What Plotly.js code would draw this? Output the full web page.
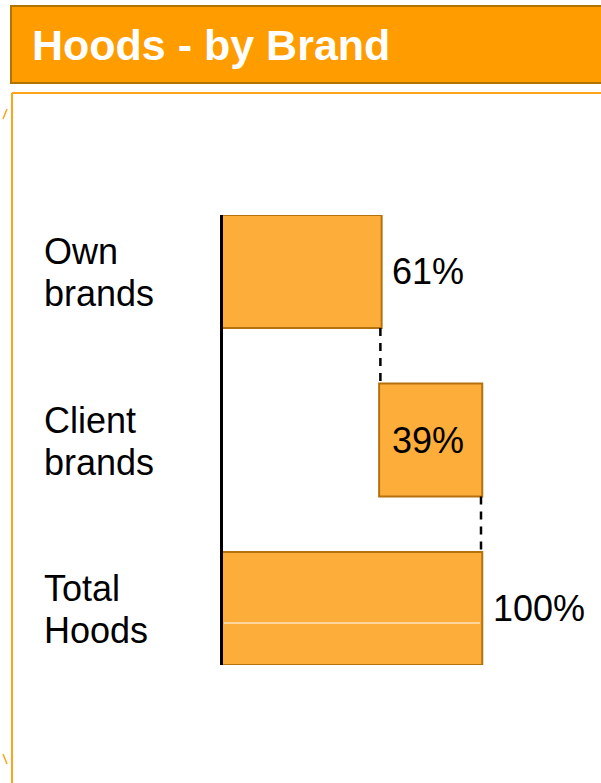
<!DOCTYPE html>
<html>
<head>
<meta charset="utf-8">
<script src="https://cdn.plot.ly/plotly-3.0.1.min.js"></script>
<style>html,body{margin:0;padding:0;background:#fff;}#chart{width:601px;height:783px;}</style>
</head>
<body>
<div id="chart"></div>
<script>
// ---- data ----
var categories = ["Own brands", "Client brands", "Total Hoods"];
var categoryLabelLines = [["Own", "brands"], ["Client", "brands"], ["Total", "Hoods"]];
var values = [61, 39, 100];
var measures = ["relative", "relative", "total"];
var valueLabels = ["61%", "39%", "100%"];
var labelInside = [false, true, false];
var chartTitle = "Hoods - by Brand";

// ---- geometry helpers (pixel -> paper) ----
var W = 601, H = 783, ML = 223, MR = 0, MT = 215, MB = 118;
var PW = W - ML - MR, PH = H - MT - MB;
function px(x) { return (x - ML) / PW; }
function py(y) { return (H - MB - y) / PH; }

var fill = "#FDAD3A", edge = "#B5720C";
var font = "Liberation Sans, Arial, sans-serif";

var trace = {
  type: "waterfall",
  orientation: "h",
  y: categories,
  x: values,
  measure: measures,
  width: 0.67,
  increasing: {marker: {color: fill, line: {color: edge, width: 2}}},
  decreasing: {marker: {color: fill, line: {color: edge, width: 2}}},
  totals: {marker: {color: fill, line: {color: edge, width: 2}}},
  connector: {mode: "between", line: {color: "#000", width: 2.5, dash: "8px,7px"}},
  textinfo: "none",
  hoverinfo: "skip",
  cliponaxis: false
};

// cumulative ends for label positions
var annotations = [];
var cum = 0;
for (var i = 0; i < categories.length; i++) {
  var start, end;
  if (measures[i] === "total") { start = 0; end = values[i]; cum = values[i]; }
  else { start = cum; end = cum + values[i]; cum = end; }
  annotations.push({
    xref: "x", yref: "y",
    x: labelInside[i] ? (start + end) / 2 : end,
    y: categories[i],
    text: valueLabels[i],
    showarrow: false,
    xanchor: labelInside[i] ? "center" : "left",
    yanchor: "middle",
    xshift: labelInside[i] ? -3 : 10,
    font: {family: font, size: 36, color: "#000"}
  });
  var lines = categoryLabelLines[i];
  for (var k = 0; k < lines.length; k++) {
    annotations.push({
      xref: "paper", yref: "y",
      x: px(42), y: categories[i],
      yshift: k === 0 ? 20 : -22,
      text: lines[k],
      showarrow: false, xanchor: "left", yanchor: "middle", align: "left",
      font: {family: font, size: 36, color: "#000"}
    });
  }
}

var shapes = [
  // header band
  {type: "rect", xref: "paper", yref: "paper", x0: px(11), x1: px(603), y0: py(83), y1: py(6),
   fillcolor: "#FF9C00", line: {color: "#B07400", width: 2}, layer: "above"},
  // content frame
  {type: "line", xref: "paper", yref: "paper", x0: px(12), x1: px(12), y0: py(93), y1: py(790),
   line: {color: "#FFA31A", width: 2}},
  {type: "line", xref: "paper", yref: "paper", x0: px(12), x1: px(605), y0: py(93), y1: py(93),
   line: {color: "#FFA31A", width: 2}},
  {type: "line", xref: "paper", yref: "paper", x0: px(3), x1: px(7), y0: py(119), y1: py(109),
   line: {color: "#FFA31A", width: 1.5}},
  {type: "line", xref: "paper", yref: "paper", x0: px(3), x1: px(7), y0: py(754), y1: py(764),
   line: {color: "#FFA31A", width: 1.5}},
  // thin white line inside total bar
  {type: "line", xref: "x", yref: "y", x0: 0.4, x1: 99.6, y0: 2.086, y1: 2.086,
   line: {color: "#FFFFFF", width: 1}, layer: "above"}
];

var layout = {
  width: W, height: H,
  margin: {l: ML, r: MR, t: MT, b: MB, pad: 0},
  paper_bgcolor: "#fff", plot_bgcolor: "rgba(0,0,0,0)",
  showlegend: false,
  title: {
    text: "<b>" + chartTitle + "</b>",
    xref: "container", yref: "container",
    x: 32 / W, xanchor: "left",
    y: 1 - 45 / H, yanchor: "middle",
    font: {family: font, size: 43, color: "#FFFFFF"}
  },
  xaxis: {range: [0, PW / 2.58], showgrid: false, zeroline: false, showticklabels: false, showline: false, fixedrange: true},
  yaxis: {type: "category", categoryarray: categories, range: [2.335, -0.335],
          showgrid: false, zeroline: false, showticklabels: false,
          showline: true, linecolor: "#000", linewidth: 3, ticks: "", fixedrange: true},
  shapes: shapes,
  annotations: annotations
};

Plotly.newPlot("chart", [trace], layout, {displayModeBar: false, staticPlot: true});
</script>
</body>
</html>
